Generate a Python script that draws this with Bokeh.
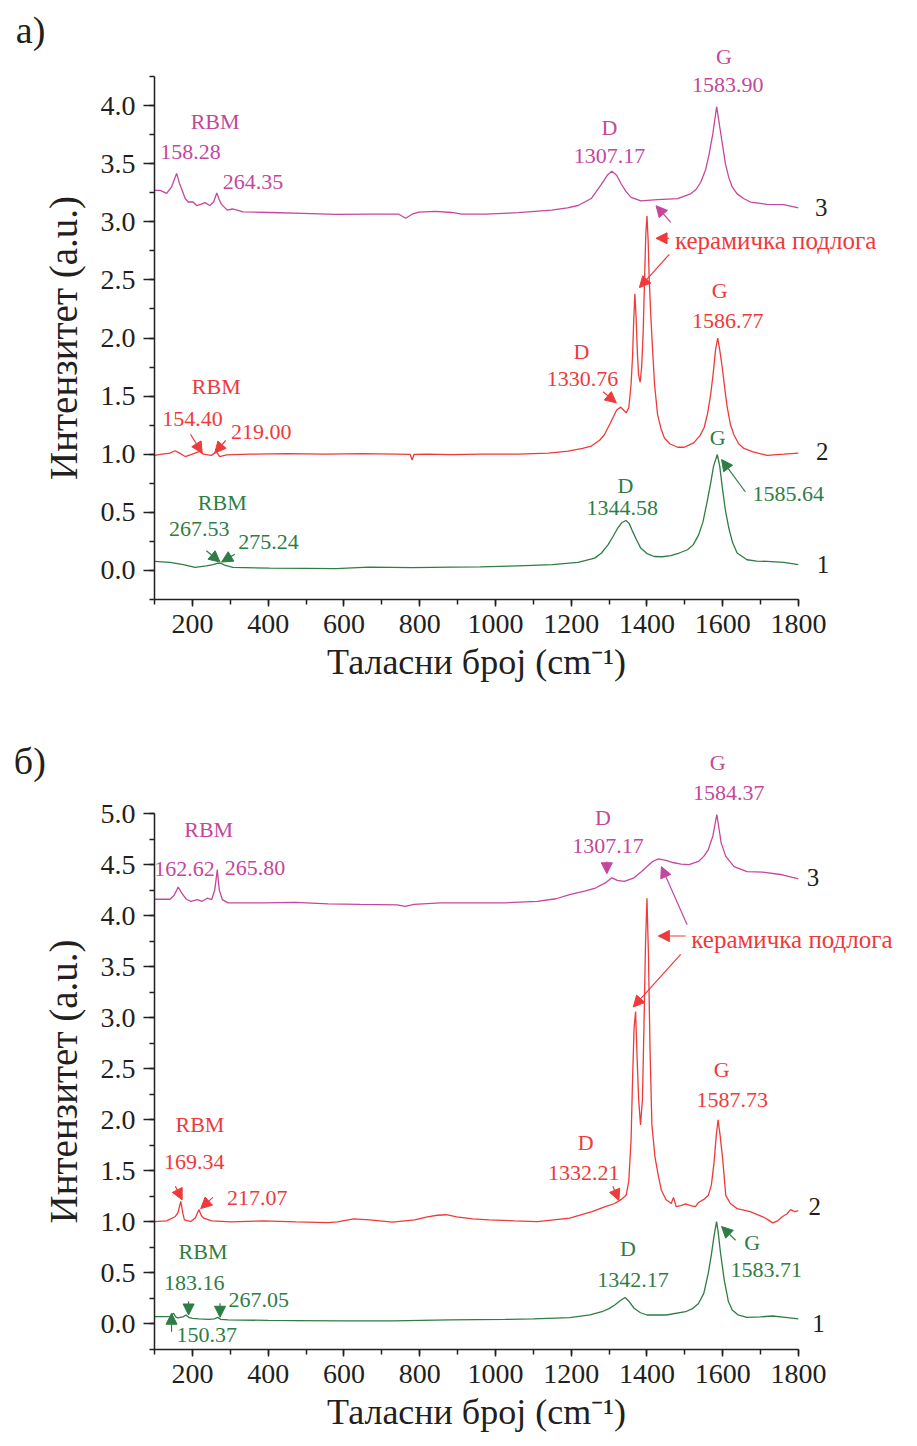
from bokeh.plotting import figure
from bokeh.models import Arrow, NormalHead, SingleIntervalTicker, PrintfTickFormatter
from bokeh.core.properties import value
from bokeh.layouts import column
from bokeh.embed import file_html
from bokeh.resources import INLINE

FONT = "Liberation Serif"
MAGENTA = "#C4479D"
RED = "#EE3A3A"
GREEN = "#2E7D45"
INK = "#231F20"

# ---------------- panel а) spectra (wavenumber cm-1, intensity a.u.) ----------------
a3_x = [100, 115, 132, 145, 158.28, 166, 172, 181, 189, 202, 211, 222, 233, 246, 256, 264.35, 271, 277,
        292, 306, 334, 404, 491, 578, 666, 745, 763, 780, 798, 841, 885, 911, 973, 1060, 1148, 1190,
        1218, 1253, 1279, 1295, 1307.17, 1320, 1332, 1345, 1358, 1384, 1428, 1481, 1515, 1530, 1542,
        1555, 1564, 1574, 1583.90, 1592, 1599, 1607, 1616, 1625, 1638, 1655, 1673, 1717, 1761, 1800]
a3_y = [3.27, 3.27, 3.245, 3.30, 3.416, 3.33, 3.28, 3.20, 3.17, 3.17, 3.14, 3.15, 3.165, 3.14, 3.17, 3.247,
        3.19, 3.15, 3.10, 3.11, 3.086, 3.08, 3.072, 3.063, 3.065, 3.065, 3.03, 3.065, 3.083, 3.089, 3.08,
        3.066, 3.066, 3.078, 3.10, 3.12, 3.14, 3.20, 3.32, 3.40, 3.434, 3.40, 3.325, 3.26, 3.21, 3.18,
        3.19, 3.20, 3.24, 3.28, 3.34, 3.45, 3.58, 3.76, 3.99, 3.82, 3.67, 3.50, 3.38, 3.30, 3.24, 3.20,
        3.17, 3.15, 3.147, 3.12]

a2_x = [100, 120, 141, 154.40, 166, 181, 200, 219.00, 229, 250, 264, 272, 290, 350, 450, 550, 650, 740,
        775, 780, 785, 820, 885, 960, 1060, 1140, 1192, 1230, 1253, 1275, 1288, 1302, 1314, 1320,
        1330.76, 1338, 1345, 1352, 1358, 1362, 1365, 1368, 1371, 1375, 1378, 1382, 1386, 1390, 1394,
        1397, 1400, 1403, 1406, 1410, 1415, 1420, 1428, 1437, 1446, 1460, 1481, 1498, 1512, 1524, 1540,
        1551, 1560, 1568, 1575, 1581, 1586.77, 1592, 1599, 1606, 1612, 1620, 1629, 1642, 1656, 1680,
        1717, 1761, 1800]
a2_y = [0.99, 1.0, 1.01, 1.03, 1.01, 0.98, 1.0, 1.025, 1.0, 0.99, 1.02, 0.98, 0.995, 1.0, 1.005, 1.0, 1.005,
        1.0, 0.998, 0.95, 0.998, 1.0, 0.997, 1.0, 1.0, 1.01, 1.026, 1.05, 1.07, 1.12, 1.17, 1.26, 1.34,
        1.38, 1.405, 1.38, 1.356, 1.40, 1.60, 1.85, 2.15, 2.38, 2.20, 1.85, 1.68, 1.62, 1.75, 2.05, 2.55,
        2.90, 3.05, 2.85, 2.50, 2.20, 1.89, 1.60, 1.34, 1.22, 1.14, 1.09, 1.06, 1.06, 1.08, 1.10, 1.16,
        1.23, 1.35, 1.51, 1.70, 1.90, 2.0, 1.90, 1.74, 1.55, 1.40, 1.26, 1.17, 1.09, 1.05, 1.02, 0.99,
        1.0, 1.01]

a1_x = [100, 141, 176, 207, 237, 255, 267.53, 271, 275.24, 285, 307, 404, 500, 579, 666, 780, 885, 960,
        1060, 1150, 1218, 1262, 1280, 1297, 1310, 1323, 1333, 1344.58, 1353, 1362, 1373, 1384, 1400,
        1419, 1440, 1463, 1485, 1507, 1522, 1537, 1548, 1559, 1568, 1576, 1585.64, 1592, 1599, 1607,
        1616, 1626, 1638, 1664, 1690, 1717, 1761, 1800]
a1_y = [0.078, 0.069, 0.05, 0.026, 0.04, 0.05, 0.063, 0.06, 0.063, 0.045, 0.026, 0.02, 0.018, 0.015,
        0.028, 0.025, 0.028, 0.03, 0.04, 0.05, 0.069, 0.106, 0.15, 0.22, 0.29, 0.365, 0.41, 0.43, 0.405,
        0.336, 0.26, 0.19, 0.145, 0.12, 0.118, 0.127, 0.15, 0.178, 0.22, 0.31, 0.42, 0.595, 0.75, 0.90,
        0.997, 0.90, 0.71, 0.52, 0.365, 0.24, 0.15, 0.092, 0.08, 0.078, 0.07, 0.05]

# ---------------- panel б) spectra ----------------
b3_x = [100, 141, 152, 162.62, 172, 184, 196, 213, 226, 239, 251, 259, 265.80, 271, 279, 294, 388, 473,
        558, 643, 740, 762, 785, 855, 940, 1026, 1111, 1160, 1196, 1235, 1264, 1290, 1307.17, 1322,
        1340, 1366, 1385, 1400, 1415, 1430, 1450, 1468, 1490, 1511, 1536, 1550, 1562, 1574, 1580,
        1584.37, 1589, 1596, 1608, 1630, 1664, 1706, 1757, 1800]
b3_y = [4.16, 4.16, 4.20, 4.28, 4.22, 4.16, 4.14, 4.157, 4.14, 4.17, 4.157, 4.25, 4.45, 4.25, 4.157,
        4.125, 4.125, 4.13, 4.115, 4.11, 4.105, 4.09, 4.11, 4.125, 4.125, 4.125, 4.14, 4.165, 4.206,
        4.24, 4.27, 4.32, 4.37, 4.345, 4.336, 4.37, 4.43, 4.48, 4.53, 4.556, 4.54, 4.52, 4.505, 4.50,
        4.53, 4.58, 4.647, 4.78, 4.90, 4.99, 4.88, 4.71, 4.58, 4.48, 4.43, 4.425, 4.40, 4.36]

b2_x = [100, 132, 154, 162, 169.34, 175, 179, 196, 208, 217.07, 224, 230, 251, 302, 388, 473, 558, 583,
        626, 668, 728, 787, 820, 847, 870, 898, 940, 983, 1050, 1111, 1196, 1255, 1290, 1315, 1332.21,
        1345, 1352, 1358, 1362, 1366, 1370, 1374, 1378, 1383, 1388, 1392, 1396, 1400, 1404, 1408,
        1413, 1421, 1430, 1438, 1450, 1464, 1470, 1477, 1490, 1502, 1515, 1528, 1536, 1550, 1562,
        1570, 1577, 1583, 1587.73, 1593, 1600, 1608, 1620, 1638, 1672, 1706, 1720, 1732, 1745, 1757,
        1770, 1779, 1790, 1800]
b2_y = [1.003, 1.01, 1.05, 1.09, 1.20, 1.08, 1.02, 1.003, 1.04, 1.12, 1.06, 1.036, 1.01, 1.0, 1.01, 1.0,
        0.993, 1.0, 1.03, 1.02, 0.997, 1.02, 1.05, 1.065, 1.07, 1.05, 1.03, 1.02, 1.01, 1.003, 1.036,
        1.10, 1.15, 1.18, 1.22, 1.26, 1.40, 1.80, 2.40, 2.90, 3.06, 2.60, 2.20, 1.95, 2.20, 2.90, 3.70,
        4.17, 3.60, 2.70, 1.95, 1.64, 1.45, 1.31, 1.22, 1.18, 1.24, 1.15, 1.16, 1.176, 1.16, 1.15, 1.19,
        1.22, 1.26, 1.36, 1.58, 1.85, 2.0, 1.85, 1.61, 1.26, 1.18, 1.13, 1.10, 1.05, 1.02, 0.99, 1.01,
        1.05, 1.08, 1.12, 1.10, 1.11]

b1_x = [100, 132, 142, 150.37, 156, 162, 175, 183.16, 190, 200, 217, 243, 258, 267.05, 275, 294, 400,
        473, 600, 728, 880, 1026, 1100, 1196, 1250, 1281, 1300, 1315, 1330, 1342.17, 1353, 1366, 1383,
        1400, 1451, 1502, 1520, 1536, 1550, 1562, 1570, 1577, 1583.71, 1588, 1594, 1604, 1615, 1625,
        1640, 1664, 1700, 1732, 1765, 1800]
b1_y = [0.072, 0.072, 0.075, 0.105, 0.07, 0.06, 0.07, 0.088, 0.065, 0.055, 0.05, 0.045, 0.05, 0.065,
        0.045, 0.04, 0.035, 0.033, 0.03, 0.03, 0.04, 0.045, 0.05, 0.062, 0.09, 0.12, 0.15, 0.186, 0.23,
        0.26, 0.22, 0.154, 0.11, 0.088, 0.088, 0.12, 0.15, 0.20, 0.30, 0.50, 0.68, 0.86, 1.003, 0.90,
        0.70, 0.43, 0.22, 0.137, 0.09, 0.065, 0.07, 0.078, 0.065, 0.05]

X_LABEL = "Таласни број (cm⁻¹)"
Y_LABEL = "Интензитет (a.u.)"
SUBSTRATE = "керамичка подлога"

# peak annotations: (text, wavenumber, intensity, colour)
A_TEXTS = [
    ("RBM", 260, 3.86, MAGENTA), ("158.28", 195, 3.60, MAGENTA), ("264.35", 360, 3.34, MAGENTA),
    ("D", 1301, 3.81, MAGENTA), ("1307.17", 1301, 3.57, MAGENTA),
    ("G", 1603, 4.42, MAGENTA), ("1583.90", 1613, 4.18, MAGENTA),
    ("G", 1592, 2.41, RED), ("1586.77", 1613, 2.15, RED),
    ("D", 1227, 1.88, RED), ("1330.76", 1230, 1.65, RED),
    ("RBM", 263, 1.58, RED), ("154.40", 200, 1.30, RED), ("219.00", 382, 1.19, RED),
    ("G", 1587, 1.14, GREEN), ("1585.64", 1773, 0.655, GREEN),
    ("D", 1343, 0.733, GREEN), ("1344.58", 1335, 0.534, GREEN),
    ("RBM", 279, 0.586, GREEN), ("267.53", 218, 0.353, GREEN), ("275.24", 401, 0.241, GREEN),
]
A_ARROWS = [
    (1463, 2.994, 1424, 3.138, MAGENTA),
    (1458, 2.858, 1424, 2.858, RED),
    (1459, 2.72, 1380, 2.434, RED),
    (1284, 1.537, 1319, 1.442, RED),
    (1660, 0.675, 1597, 0.954, GREEN),
    (195, 1.172, 226, 1.009, RED),
    (288, 1.118, 259, 1.011, RED),
    (237, 0.17, 273, 0.072, GREEN),
    (312, 0.14, 277, 0.072, GREEN),
]
A_NUMBERS = [("3", 1860, 3.12), ("2", 1863, 1.02), ("1", 1865, 0.052)]

B_TEXTS = [
    ("RBM", 243, 4.84, MAGENTA), ("162.62", 179, 4.46, MAGENTA), ("265.80", 365, 4.47, MAGENTA),
    ("D", 1284, 4.96, MAGENTA), ("1307.17", 1297, 4.68, MAGENTA),
    ("G", 1587, 5.50, MAGENTA), ("1584.37", 1616, 5.20, MAGENTA),
    ("G", 1597, 2.49, RED), ("1587.73", 1625, 2.19, RED),
    ("D", 1238, 1.78, RED), ("1332.21", 1233, 1.48, RED),
    ("RBM", 220, 1.95, RED), ("169.34", 205, 1.59, RED), ("217.07", 371, 1.235, RED),
    ("G", 1678, 0.80, GREEN), ("1583.71", 1715, 0.525, GREEN),
    ("D", 1350, 0.735, GREEN), ("1342.17", 1363, 0.43, GREEN),
    ("RBM", 228, 0.706, GREEN), ("183.16", 205, 0.40, GREEN), ("267.05", 375, 0.23, GREEN),
    ("150.37", 238, -0.108, GREEN),
]
B_ARROWS = [
    (1294, 4.53, 1294, 4.41, MAGENTA),
    (1506, 3.91, 1438, 4.48, MAGENTA),
    (1502, 3.80, 1430, 3.80, RED),
    (1489, 3.62, 1364, 3.105, RED),
    (1310, 1.35, 1326, 1.21, RED),
    (1634, 0.82, 1597, 0.954, GREEN),
    (155, 1.35, 173, 1.216, RED),
    (254, 1.24, 222, 1.13, RED),
    (190, 0.219, 190, 0.088, GREEN),
    (273, 0.203, 273, 0.066, GREEN),
    (145, -0.075, 145, 0.105, GREEN),
]
B_NUMBERS = [("3", 1838, 4.37), ("2", 1843, 1.15), ("1", 1853, 0.0)]


def put_text(p, xs, ys, texts, colors, size, align="center"):
    # drawn at overlay level so that text may run past the frame edges
    p.text(x=xs, y=ys, text=texts, text_color=colors, text_font=value(FONT),
           text_font_size=size, text_align=align, text_baseline="middle", level="overlay")


def make_panel(height, y_range, borders, series, texts, arrows, numbers, substrate, tag):
    left, right, top, bottom = borders
    p = figure(width=917, height=height, x_range=(100, 1800), y_range=y_range,
               output_backend="svg", toolbar_location=None,
               min_border_left=left, min_border_right=right,
               min_border_top=top, min_border_bottom=bottom)
    p.outline_line_color = None
    p.grid.visible = False
    p.background_fill_color = "white"
    p.border_fill_color = "white"

    xa = p.xaxis[0]
    xa.ticker = SingleIntervalTicker(interval=200, num_minor_ticks=2)
    xa.major_tick_out, xa.major_tick_in = 7, 0
    xa.minor_tick_out, xa.minor_tick_in = 5, 0
    xa.major_label_standoff = 8
    xa.axis_label = X_LABEL
    xa.axis_label_standoff = 6
    xa.axis_label_text_font_size = "36px"

    ya = p.yaxis[0]
    ya.ticker = SingleIntervalTicker(interval=0.5, num_minor_ticks=2)
    ya.formatter = PrintfTickFormatter(format="%.1f")
    ya.major_tick_out, ya.major_tick_in = 11, 0
    ya.minor_tick_out, ya.minor_tick_in = 5, 0
    ya.major_label_standoff = 8
    ya.axis_label = Y_LABEL
    ya.axis_label_standoff = 13
    ya.axis_label_text_font_size = "39px"

    for ax in (xa, ya):
        ax.axis_line_color = INK
        ax.major_tick_line_color = INK
        ax.minor_tick_line_color = INK
        ax.axis_line_width = 1.5
        ax.major_tick_line_width = 1.5
        ax.minor_tick_line_width = 1.5
        ax.major_label_text_font = FONT
        ax.major_label_text_font_size = "28px"
        ax.major_label_text_color = INK
        ax.axis_label_text_font = FONT
        ax.axis_label_text_font_style = "normal"
        ax.axis_label_text_color = INK

    for xs, ys, col in series:
        p.line(xs, ys, line_color=col, line_width=1.3)

    for x0, y0, x1, y1, col in arrows:
        p.add_layout(Arrow(end=NormalHead(size=11, fill_color=col, line_color=col, line_width=1),
                           x_start=x0, y_start=y0, x_end=x1, y_end=y1,
                           line_color=col, line_width=1.2))

    put_text(p, [t[1] for t in texts], [t[2] for t in texts], [t[0] for t in texts],
             [t[3] for t in texts], "22px")
    put_text(p, [n[1] for n in numbers], [n[2] for n in numbers], [n[0] for n in numbers],
             [INK] * len(numbers), "25px")
    put_text(p, [substrate[0]], [substrate[1]], [SUBSTRATE], [RED], "25px", align="left")
    put_text(p, [tag[0]], [tag[1]], [tag[2]], [INK], "38px")
    return p


pa = make_panel(720, (-0.25, 4.25), (151, 119, 76, 121),
                [(a3_x, a3_y, MAGENTA), (a2_x, a2_y, RED), (a1_x, a1_y, GREEN)],
                A_TEXTS, A_ARROWS, A_NUMBERS, (1474, 2.84), (-227, 4.65, "а)"))
pb = make_panel(726, (-0.25, 5.0), (154, 97, 93, 97),
                [(b3_x, b3_y, MAGENTA), (b2_x, b2_y, RED), (b1_x, b1_y, GREEN)],
                B_TEXTS, B_ARROWS, B_NUMBERS, (1517, 3.77), (-229, 5.51, "б)"))

layout = column(pa, pb, spacing=0)
open("out.html", "w").write(file_html(layout, INLINE))
